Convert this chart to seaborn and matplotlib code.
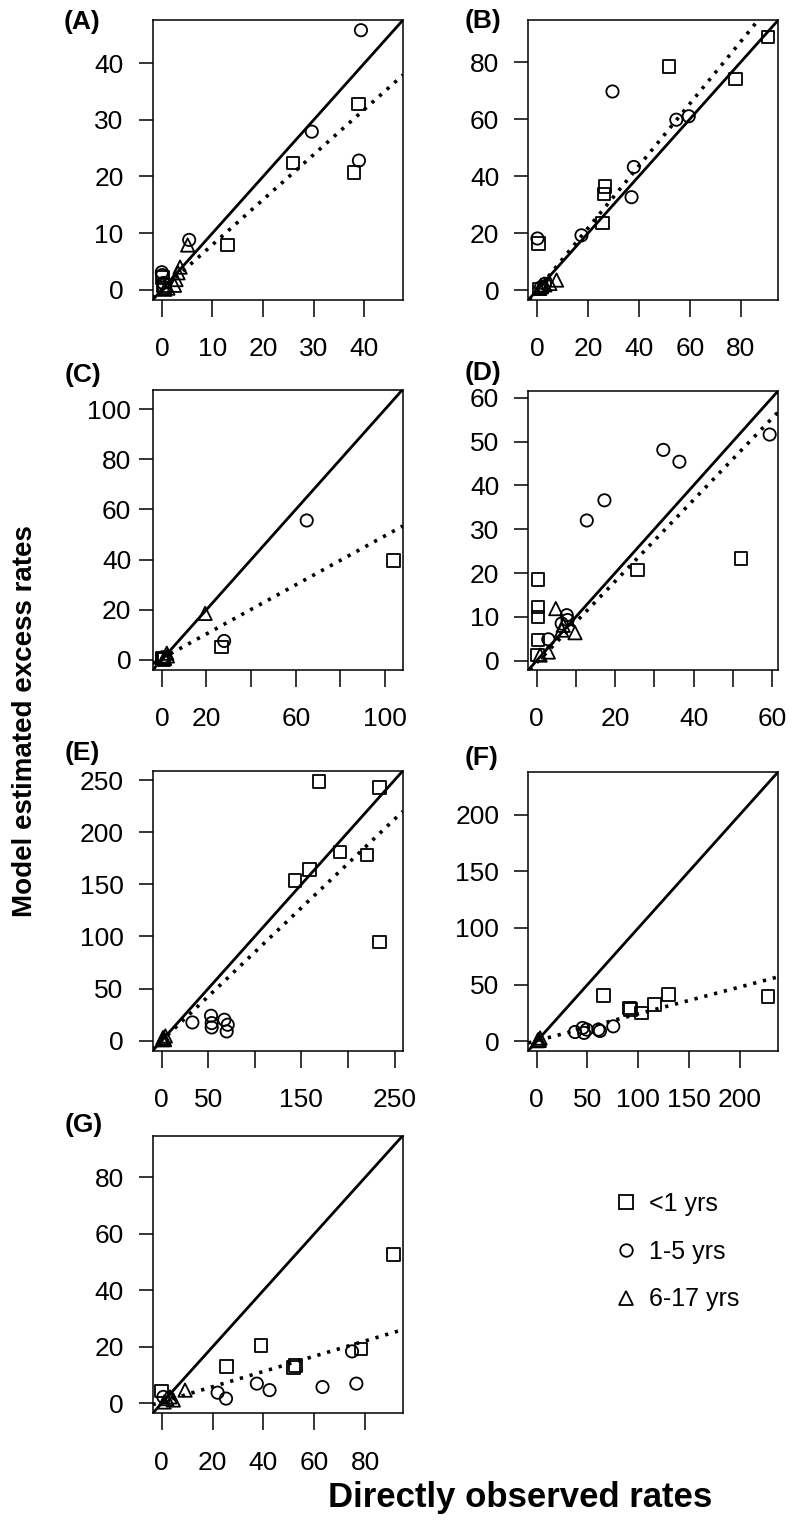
import matplotlib
matplotlib.use("Agg")
import numpy as np
import pandas as pd
import matplotlib.pyplot as plt
from matplotlib.lines import Line2D
import seaborn as sns

# age groups: "<1" -> square, "1-5" -> circle, "6-17" -> triangle
GROUP_LABELS = {"<1": "<1 yrs", "1-5": "1-5 yrs", "6-17": "6-17 yrs"}
GROUP_MARKERS = {"<1": "s", "1-5": "o", "6-17": "^"}
GROUP_SIZES = {"<1": 82, "1-5": 78, "6-17": 92}

# (A)
a_obs = [38.8, 25.9, 37.9, 13.0, 0.1, 0.2, 0.5,
         39.3, 29.6, 38.9, 5.4, 0.0, 0.1, 0.3,
         5.1, 3.6, 3.2, 2.8, 2.5, 1.2, 0.6]
a_est = [32.8, 22.4, 20.7, 7.9, 2.2, 0.8, 0.3,
         45.8, 27.9, 22.8, 8.8, 3.1, 2.6, 1.2,
         7.9, 4.0, 3.0, 1.8, 0.8, 0.3, 0.1]
a_grp = ["<1"] * 7 + ["1-5"] * 7 + ["6-17"] * 7

# (B)
b_obs = [90.7, 51.8, 77.9, 26.6, 26.2, 25.7, 0.4, 0.8,
         29.6, 54.7, 59.6, 38.0, 37.1, 17.4, 0.1, 1.5, 3.0,
         7.6, 5.0, 3.0, 1.7, 1.0]
b_est = [88.8, 78.4, 74.1, 36.4, 33.7, 23.5, 16.4, 0.4,
         69.7, 59.8, 61.0, 43.2, 32.6, 19.2, 18.1, 1.0, 2.2,
         3.5, 2.3, 1.8, 1.2, 0.6]
b_grp = ["<1"] * 8 + ["1-5"] * 9 + ["6-17"] * 5

# (C)
c_obs = [103.7, 26.7, 0.0, 0.3, 1.0,
         64.9, 27.9, 0.5,
         19.4, 2.2, 2.5, 1.2]
c_est = [39.7, 5.0, 0.7, 0.3, 0.1,
         55.6, 7.5, 1.0,
         18.5, 2.6, 1.5, 0.5]
c_grp = ["<1"] * 5 + ["1-5"] * 3 + ["6-17"] * 4

# (D)
d_obs = [52.1, 25.7, 0.4, 0.4, 0.4, 0.4, 0.2,
         59.4, 32.3, 36.4, 17.3, 12.8, 3.0, 7.7, 7.9, 6.4,
         4.9, 6.8, 6.4, 9.8, 3.0, 0.9]
d_est = [23.3, 20.7, 18.5, 12.3, 10.0, 4.7, 1.3,
         51.6, 48.1, 45.4, 36.6, 32.0, 4.9, 10.4, 9.3, 8.5,
         11.9, 8.1, 7.0, 6.4, 2.0, 1.3]
d_grp = ["<1"] * 7 + ["1-5"] * 9 + ["6-17"] * 6

# (E)
e_obs = [169.1, 233.5, 191.6, 220.3, 158.7, 143.3, 233.9,
         33.0, 53.0, 53.7, 53.7, 67.3, 70.9, 69.8,
         1.5, 2.5, 4.0, 0.8, 3.0]
e_est = [248.4, 243.0, 181.2, 178.0, 164.0, 153.5, 94.6,
         17.5, 23.9, 16.9, 12.7, 20.1, 15.3, 8.9,
         3.0, 2.0, 4.5, 1.0, 1.0]
e_grp = ["<1"] * 7 + ["1-5"] * 7 + ["6-17"] * 5

# (F)
f_obs = [65.6, 129.5, 227.9, 91.1, 92.5, 115.7, 103.3,
         37.7, 45.2, 46.6, 49.2, 60.7, 62.3, 75.4,
         3.3, 1.5, 2.5, 0.8]
f_est = [40.3, 41.2, 39.7, 29.4, 27.9, 32.4, 25.0,
         8.2, 11.8, 7.4, 10.3, 10.3, 9.1, 13.2,
         2.9, 1.5, 0.8, 0.5]
f_grp = ["<1"] * 7 + ["1-5"] * 7 + ["6-17"] * 4

# (G)
g_obs = [91.1, 39.1, 78.4, 25.6, 52.5, 51.8, 0.0,
         74.8, 37.4, 42.4, 63.2, 76.5, 22.0, 25.3, 0.7,
         9.2, 4.6, 2.0, 3.3, 1.0]
g_est = [52.6, 20.4, 19.2, 13.0, 13.4, 12.6, 4.4,
         18.4, 7.0, 4.7, 5.8, 7.0, 3.8, 1.7, 2.3,
         4.7, 1.2, 1.7, 2.3, 0.5]
g_grp = ["<1"] * 7 + ["1-5"] * 8 + ["6-17"] * 5

# fitted (dotted) line per panel: slope, intercept
fit_slope = [0.796, 1.09, 0.49, 0.93, 0.85, 0.237, 0.27]
fit_icept = [0.0, 0.0, 0.5, -0.5, 0.0, 0.5, 0.5]

panel_names = ["(A)", "(B)", "(C)", "(D)", "(E)", "(F)", "(G)"]
axis_lims = [(-1.8, 47.6), (-3.5, 94.8), (-4.1, 107.9), (-2.1, 61.6),
             (-9.6, 258.7), (-8.3, 237.9), (-3.5, 94.7)]
tick_step = [10, 20, 20, 10, 50, 50, 20]
tick_max = [40, 80, 100, 60, 250, 200, 80]
# x tick labels R dropped because they would overlap
x_hidden = [[], [], [40, 80], [10, 30, 50], [100, 200], [], []]

# axes boxes in pixels: left, top, right, bottom
boxes = [(152.7, 20, 403, 300), (528.3, 20, 778.3, 300),
         (152.7, 389.5, 402.7, 670), (528.3, 390.7, 778.3, 670),
         (152.7, 771, 402.7, 1050.7), (528.3, 771.7, 778.3, 1050.7),
         (152.7, 1135.7, 402.7, 1413.3)]
# panel letter centres in pixels
letter_pos = [(64, 22), (465, 21), (65, 375), (465, 373),
              (65, 753), (465, 758), (65, 1125)]

W, H = 793, 1526

sns.set_style("ticks")
plt.rcParams["font.family"] = ["Liberation Sans", "DejaVu Sans"]
plt.rcParams["text.color"] = "black"
plt.rcParams["axes.labelcolor"] = "black"
plt.rcParams["axes.linewidth"] = 1.1
plt.rcParams["xtick.major.width"] = 1.1
plt.rcParams["ytick.major.width"] = 1.1
plt.rcParams["xtick.major.size"] = 12
plt.rcParams["ytick.major.size"] = 10.4
plt.rcParams["xtick.color"] = "black"
plt.rcParams["ytick.color"] = "black"
plt.rcParams["xtick.labelcolor"] = "black"
plt.rcParams["ytick.labelcolor"] = "black"
plt.rcParams["axes.edgecolor"] = "black"


def make_frame(obs, est, grp):
    return pd.DataFrame({"obs": obs, "est": est, "grp": grp})


frames = [make_frame(a_obs, a_est, a_grp), make_frame(b_obs, b_est, b_grp),
          make_frame(c_obs, c_est, c_grp), make_frame(d_obs, d_est, d_grp),
          make_frame(e_obs, e_est, e_grp), make_frame(f_obs, f_est, f_grp),
          make_frame(g_obs, g_est, g_grp)]

fig = plt.figure(figsize=(W / 100, H / 100), dpi=100)

for i, df in enumerate(frames):
    l, t, r, b = boxes[i]
    ax = fig.add_axes([l / W, 1 - b / H, (r - l) / W, (b - t) / H])

    for g in ["<1", "1-5", "6-17"]:
        sub = df[df["grp"] == g]
        sns.scatterplot(data=sub, x="obs", y="est", marker=GROUP_MARKERS[g],
                        s=GROUP_SIZES[g], facecolor="none", edgecolor="black",
                        linewidth=1.3, ax=ax, legend=False)

    # 1:1 line and fitted line
    ax.axline((0, 0), slope=1, color="black", lw=2.0)
    ax.axline((0, fit_icept[i]), slope=fit_slope[i], color="black", lw=2.6,
              linestyle=(0, (0.9, 1.9)))

    lo, hi = axis_lims[i]
    ax.set_xlim(lo, hi)
    ax.set_ylim(lo, hi)
    ticks = np.arange(0, tick_max[i] + 1, tick_step[i])
    ax.set_xticks(ticks)
    ax.set_xticklabels(["" if v in x_hidden[i] else str(v) for v in ticks])
    ax.set_yticks(ticks)
    ax.set_yticklabels([str(v) for v in ticks])
    ax.tick_params(axis="x", labelsize=19, pad=15)
    ax.tick_params(axis="y", labelsize=19, pad=5 if i == 2 else 10.5)
    ax.set_xlabel("")
    ax.set_ylabel("")
    for sp in ax.spines.values():
        sp.set_visible(True)

    lx, ly = letter_pos[i]
    fig.text(lx / W, 1 - ly / H, panel_names[i], fontsize=19,
             fontweight="bold", ha="left", va="center")

fig.text(25 / W, 1 - 721 / H, "Model estimated excess rates", rotation=90,
         fontsize=20, fontweight="bold", ha="center", va="center")
fig.text(520 / W, 1 - 1498 / H, "Directly observed rates",
         fontsize=25, fontweight="bold", ha="center", va="center")

handles = [Line2D([], [], linestyle="none", marker=GROUP_MARKERS[g],
                  markersize=10 if g != "1-5" else 9, markerfacecolor="none",
                  markeredgecolor="black", markeredgewidth=1.3)
           for g in ["<1", "1-5", "6-17"]]
fig.legend(handles, [GROUP_LABELS[g] for g in ["<1", "1-5", "6-17"]],
           loc="center left", bbox_to_anchor=(613.9 / W, 1 - 1251.7 / H),
           frameon=False, fontsize=18, handlelength=1.0, handletextpad=0.4,
           labelspacing=0.95, borderpad=0, borderaxespad=0)

fig.savefig("out.png", dpi=100, facecolor="white")
